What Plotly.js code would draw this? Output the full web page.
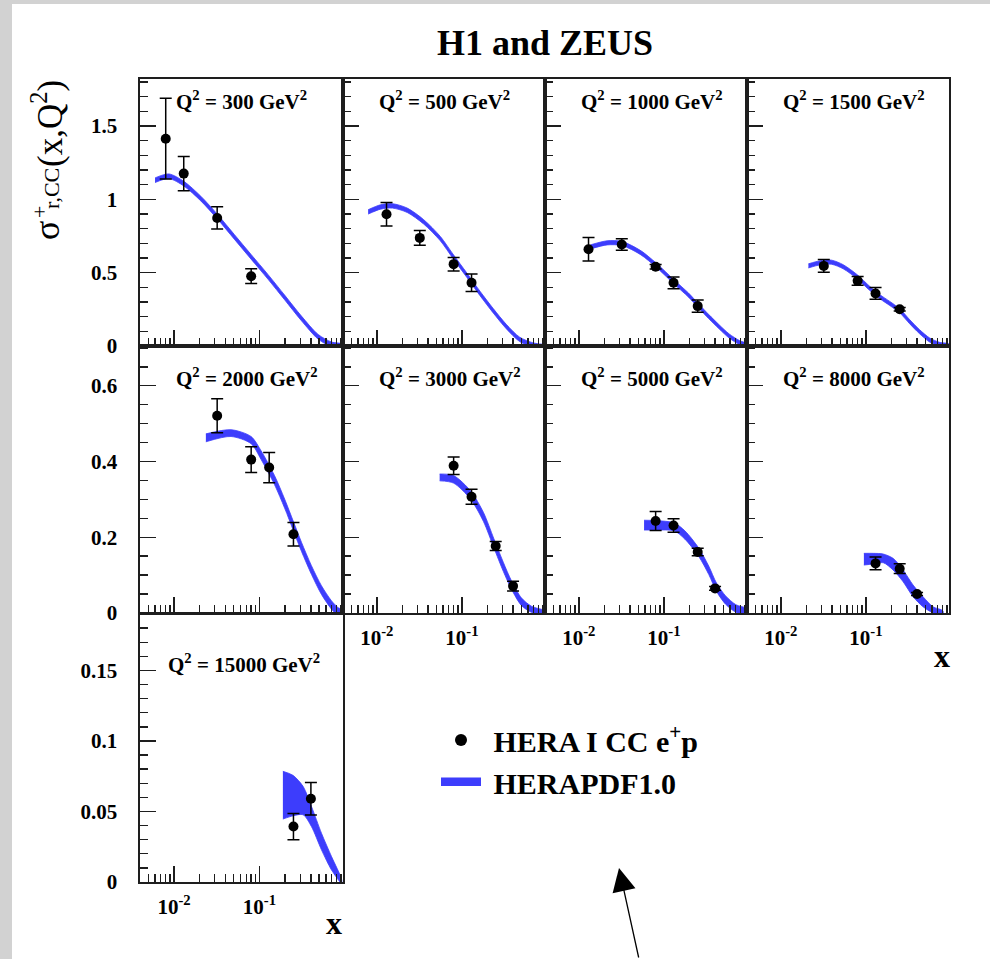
<!DOCTYPE html>
<html>
<head>
<meta charset="utf-8">
<script src="https://cdn.plot.ly/plotly-3.0.1.min.js"></script>
<style>html,body{margin:0;padding:0;background:#fff;}#chart{width:990px;height:959px;}</style>
</head>
<body>
<div id="chart"></div>
<script>
// ---------------- DATA ----------------
const q2Values = [300, 500, 1000, 1500, 2000, 3000, 5000, 8000, 15000];
const panelLabels = q2Values.map(q => 'Q<sup>2</sup> = ' + q + ' GeV<sup>2</sup>');
const xTickVals = [0.01, 0.1];
const xTickText = ['10<sup>-2</sup>', '10<sup>-1</sup>'];

// HERA I CC e+p measurements: x, sigma, error
const x300 = [0.008, 0.013, 0.032, 0.08];
const s300 = [1.413, 1.175, 0.873, 0.476];
const e300 = [0.275, 0.117, 0.076, 0.05];

const x500 = [0.013, 0.032, 0.08, 0.13];
const s500 = [0.898, 0.737, 0.558, 0.431];
const e500 = [0.08, 0.051, 0.046, 0.059];

const x1000 = [0.013, 0.032, 0.08, 0.13, 0.25];
const s1000 = [0.66, 0.692, 0.54, 0.431, 0.272];
const e1000 = [0.08, 0.039, 0.015, 0.04, 0.042];

const x1500 = [0.032, 0.08, 0.13, 0.25];
const s1500 = [0.546, 0.444, 0.358, 0.25];
const e1500 = [0.044, 0.03, 0.04, 0.012];

const x2000 = [0.032, 0.08, 0.13, 0.25];
const s2000 = [0.521, 0.405, 0.384, 0.208];
const e2000 = [0.045, 0.034, 0.04, 0.031];

const x3000 = [0.08, 0.13, 0.25, 0.4];
const s3000 = [0.389, 0.307, 0.177, 0.071];
const e3000 = [0.023, 0.02, 0.012, 0.013];

const x5000 = [0.08, 0.13, 0.25, 0.4];
const s5000 = [0.243, 0.231, 0.161, 0.065];
const e5000 = [0.025, 0.018, 0.01, 0.005];

const x8000 = [0.13, 0.25, 0.4];
const s8000 = [0.131, 0.117, 0.05];
const e8000 = [0.017, 0.013, 0.004];

const x15000 = [0.25, 0.4];
const s15000 = [0.0393, 0.059];
const e15000 = [0.0093, 0.0115];

// HERAPDF1.0 uncertainty band: x nodes, upper edge, lower edge
const bx300 = [0.006, 0.0087, 0.013, 0.0206, 0.0324, 0.0508, 0.0798, 0.1256, 0.197, 0.31, 0.486, 0.698, 0.95];
const up300 = [1.146, 1.173, 1.123, 1.021, 0.896, 0.760, 0.624, 0.488, 0.347, 0.204, 0.079, 0.027, 0.013];
const lo300 = [1.114, 1.141, 1.091, 0.989, 0.864, 0.728, 0.592, 0.456, 0.315, 0.172, 0.047, -0.005, -0.013];

const bx500 = [0.0079, 0.0111, 0.0153, 0.0228, 0.0356, 0.0558, 0.0785, 0.1143, 0.1636, 0.234, 0.335, 0.479, 0.685, 0.857, 0.95];
const up500 = [0.929, 0.963, 0.970, 0.940, 0.861, 0.747, 0.627, 0.498, 0.373, 0.255, 0.146, 0.060, 0.022, 0.013, 0.013];
const lo500 = [0.899, 0.933, 0.940, 0.910, 0.831, 0.717, 0.597, 0.468, 0.343, 0.225, 0.116, 0.030, -0.008, -0.013, -0.013];

const bx1000 = [0.0138, 0.0215, 0.0325, 0.0538, 0.0813, 0.1349, 0.195, 0.257, 0.338, 0.446, 0.587, 0.775, 0.95];
const up1000 = [0.690, 0.717, 0.712, 0.649, 0.565, 0.445, 0.361, 0.286, 0.214, 0.145, 0.082, 0.037, 0.015];
const lo1000 = [0.662, 0.689, 0.684, 0.621, 0.537, 0.417, 0.333, 0.258, 0.186, 0.117, 0.054, 0.009, -0.012];

const bx1500 = [0.0211, 0.0289, 0.0396, 0.0542, 0.0791, 0.1114, 0.146, 0.191, 0.250, 0.327, 0.429, 0.562, 0.736, 0.95];
const up1500 = [0.560, 0.581, 0.585, 0.554, 0.486, 0.406, 0.350, 0.304, 0.254, 0.180, 0.111, 0.055, 0.025, 0.014];
const lo1500 = [0.532, 0.553, 0.557, 0.526, 0.458, 0.378, 0.322, 0.276, 0.226, 0.152, 0.083, 0.027, -0.003, -0.012];

const bx2000 = [0.0236, 0.0465, 0.0798, 0.1047, 0.150, 0.197, 0.251, 0.31, 0.406, 0.532, 0.698, 0.835, 0.95];
const up2000 = [0.473, 0.484, 0.466, 0.428, 0.363, 0.301, 0.240, 0.187, 0.125, 0.072, 0.032, 0.014, 0.008];
const lo2000 = [0.452, 0.466, 0.447, 0.405, 0.339, 0.277, 0.216, 0.163, 0.102, 0.049, 0.010, -0.007, -0.010];

const bx3000 = [0.0548, 0.0798, 0.127, 0.179, 0.238, 0.307, 0.383, 0.501, 0.656, 0.857, 0.95];
const up3000 = [0.367, 0.363, 0.322, 0.266, 0.196, 0.134, 0.085, 0.040, 0.018, 0.010, 0.008];
const lo3000 = [0.349, 0.343, 0.300, 0.242, 0.172, 0.110, 0.063, 0.020, 0.002, -0.005, -0.008];

const bx5000 = [0.0585, 0.0809, 0.1318, 0.1767, 0.256, 0.337, 0.416, 0.533, 0.703, 0.925];
const up5000 = [0.245, 0.244, 0.238, 0.217, 0.172, 0.124, 0.079, 0.045, 0.022, 0.012];
const lo5000 = [0.219, 0.219, 0.217, 0.195, 0.150, 0.102, 0.057, 0.023, 0.002, -0.006];

const bx8000 = [0.0948, 0.122, 0.160, 0.209, 0.274, 0.359, 0.470, 0.615, 0.805];
const up8000 = [0.1575, 0.1575, 0.1557, 0.1443, 0.1135, 0.0739, 0.043, 0.0166, 0.006];
const lo8000 = [0.1266, 0.1293, 0.1328, 0.1135, 0.0826, 0.043, 0.0166, 0.0008, -0.003];

const bx15000 = [0.188, 0.247, 0.324, 0.406, 0.532, 0.698, 0.914];
const up15000 = [0.0785, 0.0756, 0.0678, 0.0536, 0.0346, 0.018, 0.002];
const lo15000 = [0.0446, 0.0469, 0.0477, 0.0393, 0.0228, 0.0085, -0.001];

const dataX = [x300, x500, x1000, x1500, x2000, x3000, x5000, x8000, x15000];
const dataS = [s300, s500, s1000, s1500, s2000, s3000, s5000, s8000, s15000];
const dataE = [e300, e500, e1000, e1500, e2000, e3000, e5000, e8000, e15000];
const bandX = [bx300, bx500, bx1000, bx1500, bx2000, bx3000, bx5000, bx8000, bx15000];
const bandUp = [up300, up500, up1000, up1500, up2000, up3000, up5000, up8000, up15000];
const bandLo = [lo300, lo500, lo1000, lo1500, lo2000, lo3000, lo5000, lo8000, lo15000];

// ---------------- LAYOUT ----------------
const W = 990, H = 959;
const FONT = 'Liberation Serif, Times New Roman, serif';
const BLUE = '#3d3dfc';
const AXC = '#1e1e1e';
const colsPx = [[140, 343], [343, 545], [545, 747], [747, 949]];
const rowsPx = [[79, 346], [346, 613], [614, 882]];
const yRanges = [[0, 1.82], [0, 0.705], [0, 0.19]];
const yDticks = [0.5, 0.2, 0.05];
const yMinor = [0.1, 0.05, 0.01];
const xMinorVals = [0.004,0.005,0.006,0.007,0.008,0.009,0.02,0.03,0.04,0.05,0.06,0.07,0.08,0.09,0.2,0.3,0.4,0.5,0.6,0.7,0.8,0.9];
const showXLabels = [false,false,false,false,false,true,true,true,true];

const px2x = p => p / W;
const px2y = p => 1 - p / H;

const traces = [];
const layout = {
  width: W, height: H,
  margin: {l: 0, r: 0, t: 0, b: 0},
  paper_bgcolor: '#ffffff', plot_bgcolor: '#ffffff',
  showlegend: true,
  legend: {
    x: px2x(436), y: px2y(714), xanchor: 'left', yanchor: 'top',
    bgcolor: 'rgba(0,0,0,0)', borderwidth: 0,
    font: {family: FONT, size: 30, weight: 'bold', color: '#000'},
    itemsizing: 'constant', tracegroupgap: 0, itemwidth: 40
  },
  title: {
    text: 'H1 and ZEUS', x: px2x(545), xanchor: 'center', y: px2y(42), yanchor: 'middle',
    font: {family: FONT, size: 36, weight: 'bold', color: '#000'}
  },
  annotations: [], shapes: []
};

for (let i = 0; i < 9; i++) {
  const r = Math.floor(i / 4), c = i % 4;
  const sx = i === 0 ? '' : String(i + 1);
  layout['xaxis' + sx] = {
    domain: [px2x(colsPx[c][0]), px2x(colsPx[c][1])],
    anchor: 'y' + sx,
    type: 'log', range: [Math.log10(0.004), Math.log10(0.95)],
    showline: true, mirror: true, linecolor: AXC, linewidth: 1.6,
    showgrid: false, zeroline: false,
    ticks: 'inside', ticklen: 16, tickwidth: 1.4, tickcolor: AXC,
    tickmode: 'array', tickvals: xTickVals, ticktext: xTickText,
    showticklabels: showXLabels[i], ticklabelstandoff: 5,
    tickfont: {family: FONT, size: 21, weight: 'bold', color: '#000'},
    minor: {tickmode: 'array', tickvals: xMinorVals, ticks: 'inside', ticklen: 8, tickwidth: 1.4, tickcolor: AXC, showgrid: false},
    fixedrange: true
  };
  layout['yaxis' + sx] = {
    domain: [px2y(rowsPx[r][1]), px2y(rowsPx[r][0])],
    anchor: 'x' + sx,
    range: yRanges[r],
    showline: true, mirror: true, linecolor: AXC, linewidth: 1.6,
    showgrid: false, zeroline: false,
    ticks: 'inside', ticklen: 16, tickwidth: 1.4, tickcolor: AXC,
    tick0: 0, dtick: yDticks[r],
    showticklabels: c === 0, ticklabelstandoff: 17,
    tickfont: {family: FONT, size: 21, weight: 'bold', color: '#000'},
    minor: {tick0: 0, dtick: yMinor[r], ticks: 'inside', ticklen: 8, tickwidth: 1.4, tickcolor: AXC, showgrid: false},
    fixedrange: true
  };

  const bx = bandX[i];
  traces.push({
    type: 'scatter', mode: 'lines',
    x: bx.concat(bx.slice().reverse()),
    y: bandUp[i].concat(bandLo[i].slice().reverse()),
    fill: 'toself', fillcolor: BLUE,
    line: {color: BLUE, width: 0.8, shape: 'spline', smoothing: 0.8},
    xaxis: 'x' + sx, yaxis: 'y' + sx,
    name: 'HERAPDF1.0', showlegend: i === 0, legendrank: 2, hoverinfo: 'skip'
  });

  // panel label
  const labelX = i === 8 ? 166 : colsPx[c][0] + 34;
  const labelY = [101, 377, 663][r];
  layout.annotations.push({
    xref: 'paper', yref: 'paper', x: px2x(labelX), y: px2y(labelY),
    xanchor: 'left', yanchor: 'middle', showarrow: false,
    text: panelLabels[i],
    font: {family: FONT, size: 21, weight: 'bold', color: '#000'}
  });
}

for (let i = 0; i < 9; i++) {
  const sx = i === 0 ? '' : String(i + 1);
  traces.push({
    type: 'scatter', mode: 'markers',
    x: dataX[i], y: dataS[i],
    marker: {color: '#000', size: 10},
    error_y: {type: 'data', array: dataE[i], color: '#000', thickness: 1.5, width: 6},
    xaxis: 'x' + sx, yaxis: 'y' + sx,
    name: '\u00a0HERA I CC e<sup>+</sup>p', showlegend: i === 0, legendrank: 1, cliponaxis: false
  });
}
traces[0].name = '\u00a0HERAPDF1.0';

// x labels
layout.annotations.push(
  {xref:'paper', yref:'paper', x: px2x(942), y: px2y(656), xanchor:'center', yanchor:'middle', showarrow:false,
   text:'x', font:{family: FONT, size: 32, weight:'bold', color:'#000'}},
  {xref:'paper', yref:'paper', x: px2x(334), y: px2y(923), xanchor:'center', yanchor:'middle', showarrow:false,
   text:'x', font:{family: FONT, size: 32, weight:'bold', color:'#000'}}
);

// y title pieces (rotated)
layout.annotations.push(
  {xref:'paper', yref:'paper', x: px2x(47), y: px2y(231), xanchor:'center', yanchor:'middle', showarrow:false,
   textangle: -90, text:'σ', font:{family: FONT, size: 36, color:'#000'}},
  {xref:'paper', yref:'paper', x: px2x(40), y: px2y(212), xanchor:'center', yanchor:'middle', showarrow:false,
   textangle: -90, text:'+', font:{family: FONT, size: 22, color:'#000'}},
  {xref:'paper', yref:'paper', x: px2x(52), y: px2y(189), xanchor:'center', yanchor:'middle', showarrow:false,
   textangle: -90, text:'r,CC', font:{family: FONT, size: 22, color:'#000'}},
  {xref:'paper', yref:'paper', x: px2x(47), y: px2y(124), xanchor:'center', yanchor:'middle', showarrow:false,
   textangle: -90, text:'(x,Q<sup>2</sup>)', font:{family: FONT, size: 35, color:'#000'}}
);

// arrow
layout.annotations.push({
  xref:'paper', yref:'paper', x: px2x(619), y: px2y(868), text:'', showarrow: true,
  ax: 20, ay: 95, arrowhead: 2, arrowsize: 3.6, arrowwidth: 1.3, arrowcolor: '#000'
});

// grey textured page edges
layout.shapes.push(
  {type:'rect', xref:'paper', yref:'paper', x0: 0, x1: px2x(12), y0: 0, y1: 1, fillcolor:'#d2d2d2', line:{width:0}, layer:'below'},
  {type:'rect', xref:'paper', yref:'paper', x0: 0, x1: 1, y0: px2y(4), y1: 1, fillcolor:'#d2d2d2', line:{width:0}, layer:'below'}
);

Plotly.newPlot('chart', traces, layout, {staticPlot: true, displayModeBar: false});
</script>
</body>
</html>
